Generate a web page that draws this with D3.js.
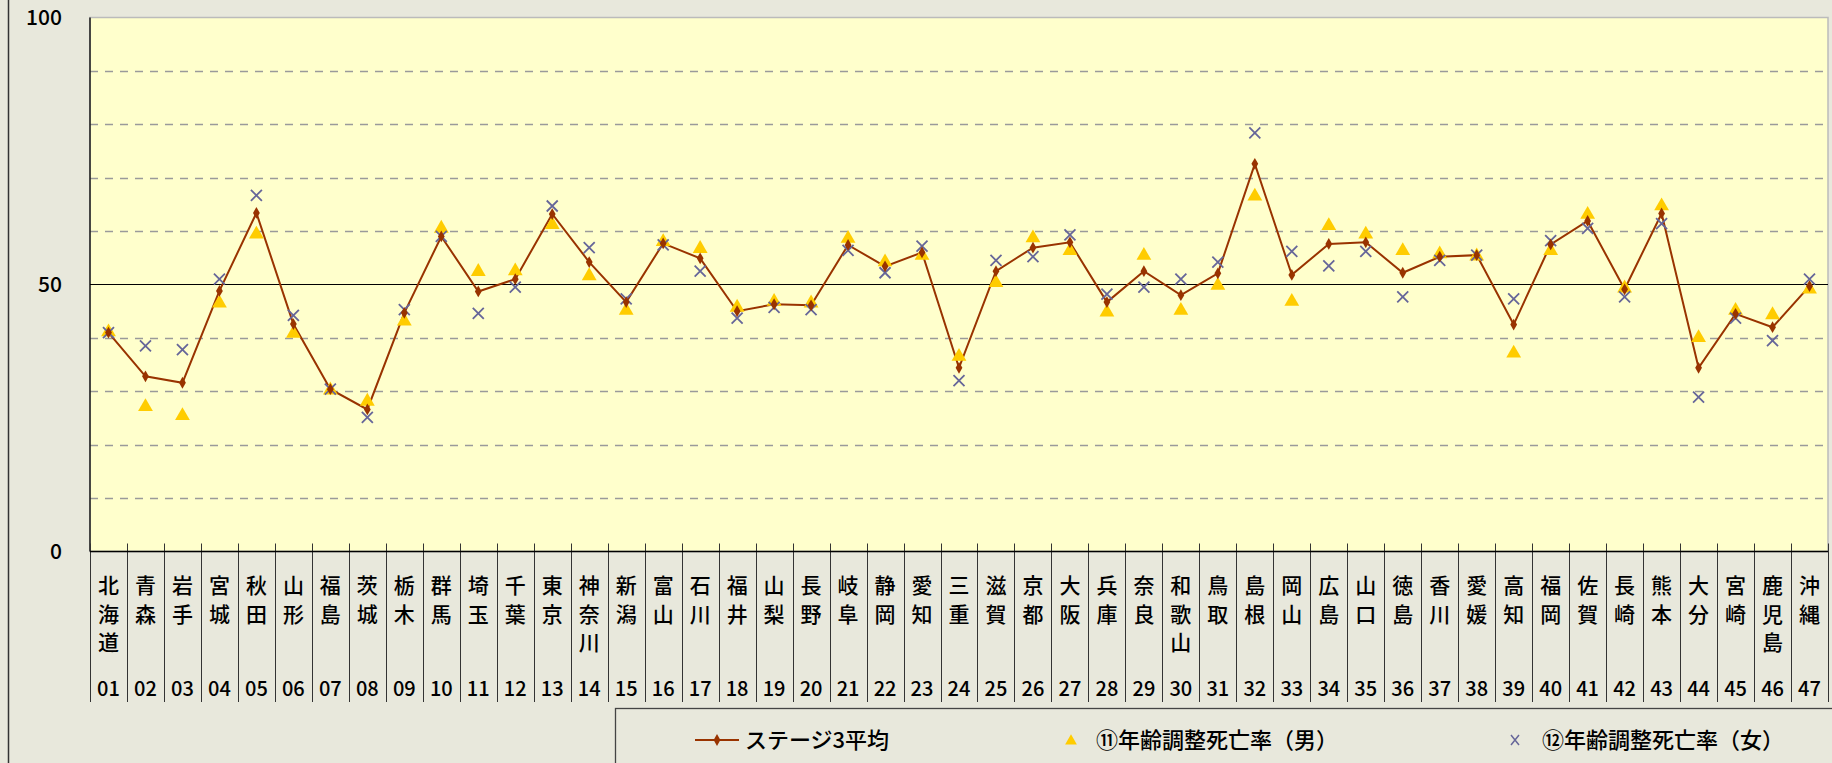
<!DOCTYPE html>
<html>
<head>
<meta charset="utf-8">
<script src="https://cdn.jsdelivr.net/npm/d3@7"></script>
<style>
  html, body { margin: 0; padding: 0; background: #E8E8DC; }
  svg { display: block; }
  text { font-family: "Noto Sans CJK JP", "Noto Sans", sans-serif; fill: #000; font-weight: 500; }
</style>
</head>
<body>
<div id="chart"></div>
<script>
// prefecture names and codes (two-level category axis)
const prefNames = ["北海道","青森","岩手","宮城","秋田","山形","福島","茨城","栃木","群馬",
  "埼玉","千葉","東京","神奈川","新潟","富山","石川","福井","山梨","長野",
  "岐阜","静岡","愛知","三重","滋賀","京都","大阪","兵庫","奈良","和歌山",
  "鳥取","島根","岡山","広島","山口","徳島","香川","愛媛","高知","福岡",
  "佐賀","長崎","熊本","大分","宮崎","鹿児島","沖縄"];
const prefCodes = ["01","02","03","04","05","06","07","08","09","10",
  "11","12","13","14","15","16","17","18","19","20",
  "21","22","23","24","25","26","27","28","29","30",
  "31","32","33","34","35","36","37","38","39","40",
  "41","42","43","44","45","46","47"];

// series values
const stage3Avg = [41.0,32.8,31.6,48.8,63.4,42.6,30.4,26.6,44.7,59.0,
  48.7,51.0,63.2,54.2,46.7,57.7,54.9,45.0,46.3,46.1,
  57.4,53.4,56.0,34.4,52.5,56.9,57.9,46.7,52.5,48.0,
  52.1,72.6,51.8,57.6,57.9,52.2,55.2,55.5,42.5,57.5,
  61.9,49.1,63.3,34.4,44.5,42.0,49.7];
const maleRate = [41.3,27.3,25.6,46.7,59.6,41.0,30.4,28.3,43.3,60.7,
  52.6,52.7,61.4,51.8,45.3,58.2,56.9,45.9,47.0,46.7,
  58.8,54.4,55.6,36.7,50.5,58.9,56.5,45.0,55.6,45.3,
  50.0,66.7,47.0,61.2,59.6,56.5,55.9,55.5,37.3,56.5,
  63.3,49.5,64.9,40.2,45.3,44.5,49.3];
const femaleRate = [41.0,38.5,37.8,51.0,66.7,44.2,30.4,25.1,45.3,59.0,
  44.6,49.5,64.7,56.9,47.3,57.4,52.5,43.7,45.7,45.3,
  56.4,52.2,57.2,32.0,54.5,55.2,59.3,48.2,49.5,51.0,
  54.2,78.4,56.2,53.5,56.2,47.7,54.5,55.5,47.3,58.2,
  60.5,47.7,61.4,28.9,43.7,39.5,51.0];

const yTicks = [0, 50, 100];
const gridValues = [10, 20, 30, 40, 60, 70, 80, 90];
const seriesLabels = ["ステージ3平均", "⑪年齢調整死亡率（男）", "⑫年齢調整死亡率（女）"];

const width = 1832, height = 763;
const plot = { left: 90, right: 1828, top: 17.5, bottom: 551.5 };

const svg = d3.select("#chart").append("svg")
  .attr("width", width)
  .attr("height", height);

svg.append("rect").attr("width", width).attr("height", height).attr("fill", "#E8E8DC");
// chart area left border
svg.append("line").attr("x1", 8.5).attr("x2", 8.5).attr("y1", 0).attr("y2", height)
  .attr("stroke", "#333").attr("stroke-width", 1.5);

const x = d3.scaleBand().domain(prefCodes).range([plot.left, plot.right]).padding(0);
const y = d3.scaleLinear().domain([0, 100]).range([plot.bottom, plot.top]);
const cx = i => x(prefCodes[i]) + x.bandwidth() / 2;

// plot area
svg.append("rect")
  .attr("x", plot.left).attr("y", plot.top)
  .attr("width", plot.right - plot.left).attr("height", plot.bottom - plot.top)
  .attr("fill", "#FFFFCC")
  .attr("stroke", "#BBBBBB").attr("stroke-width", 1.5);

// dashed gridlines
svg.append("g").selectAll("line").data(gridValues).join("line")
  .attr("x1", plot.left).attr("x2", plot.right)
  .attr("y1", d => Math.round(y(d)) + 0.5).attr("y2", d => Math.round(y(d)) + 0.5)
  .attr("stroke", "#9A9A9A").attr("stroke-width", 1.3)
  .attr("stroke-dasharray", "8,7");

// 50 line
svg.append("line")
  .attr("x1", plot.left).attr("x2", plot.right)
  .attr("y1", y(50)).attr("y2", y(50))
  .attr("stroke", "#000").attr("stroke-width", 1.2);

// y axis labels
svg.append("g").selectAll("text").data(yTicks).join("text")
  .attr("x", 62).attr("y", d => y(d))
  .attr("dy", "0.36em")
  .attr("text-anchor", "end")
  .style("font-size", "21px")
  .text(d => d);

// axes lines
svg.append("line").attr("x1", plot.left).attr("x2", plot.left)
  .attr("y1", plot.top).attr("y2", plot.bottom)
  .attr("stroke", "#000").attr("stroke-width", 1.3);

// category separators (cross ticks + label dividers)
const bounds = prefCodes.map(c => x(c)).concat([plot.right]);
svg.append("g").selectAll("line").data(bounds).join("line")
  .attr("x1", d => Math.round(d) + 0.5).attr("x2", d => Math.round(d) + 0.5)
  .attr("y1", plot.bottom - 8).attr("y2", 702)
  .attr("stroke", "#333").attr("stroke-width", 1);

svg.append("line").attr("x1", plot.left).attr("x2", plot.right)
  .attr("y1", plot.bottom).attr("y2", plot.bottom)
  .attr("stroke", "#000").attr("stroke-width", 1.5);

// category labels: names stacked vertically, codes below
const labels = svg.append("g");
prefNames.forEach((name, i) => {
  const t = labels.append("text")
    .attr("text-anchor", "middle")
    .style("font-size", "21px");
  Array.from(name).forEach((ch, k) => {
    t.append("tspan").attr("x", cx(i)).attr("y", 593 + k * 28.5).text(ch);
  });
  labels.append("text")
    .attr("x", cx(i)).attr("y", 696)
    .attr("text-anchor", "middle")
    .style("font-size", "20px")
    .text(prefCodes[i]);
});

// series: stage 3 average line
const line = d3.line().x((d, i) => cx(i)).y(d => y(d));
svg.append("path").datum(stage3Avg)
  .attr("d", line)
  .attr("fill", "none")
  .attr("stroke", "#993300")
  .attr("stroke-width", 2);

const tri = d3.symbol().type(d3.symbolTriangle).size(95);
svg.append("g").selectAll("path").data(maleRate).join("path")
  .attr("transform", (d, i) => `translate(${cx(i)},${y(d) + 1})`)
  .attr("d", tri)
  .attr("fill", "#FFCC00");

const xs = 5.5;
const crossPath = `M${-xs},${-xs}L${xs},${xs}M${-xs},${xs}L${xs},${-xs}`;
svg.append("g").selectAll("path").data(femaleRate).join("path")
  .attr("transform", (d, i) => `translate(${cx(i)},${y(d)})`)
  .attr("d", crossPath)
  .attr("fill", "none")
  .attr("stroke", "#666699")
  .attr("stroke-width", 1.8);

const diamond = d3.symbol().type(d3.symbolDiamond).size(40);
svg.append("g").selectAll("path").data(stage3Avg).join("path")
  .attr("transform", (d, i) => `translate(${cx(i)},${y(d)})`)
  .attr("d", diamond)
  .attr("fill", "#993300");

// legend
const lg = svg.append("g");
lg.append("rect").attr("x", 615.5).attr("y", 708.5).attr("width", width).attr("height", 100)
  .attr("fill", "#E8E8DC").attr("stroke", "#444").attr("stroke-width", 1.3);
const ly = 740;
lg.append("line").attr("x1", 695).attr("x2", 739).attr("y1", ly).attr("y2", ly)
  .attr("stroke", "#993300").attr("stroke-width", 2);
lg.append("path").attr("transform", `translate(717,${ly})`).attr("d", diamond).attr("fill", "#993300");
lg.append("text").attr("x", 745).attr("y", ly).attr("dy", "0.36em").style("font-size", "22px").text(seriesLabels[0]);

lg.append("path").attr("transform", `translate(1071,${ly + 1})`)
  .attr("d", d3.symbol().type(d3.symbolTriangle).size(60)).attr("fill", "#FFCC00");
lg.append("text").attr("x", 1096).attr("y", ly).attr("dy", "0.36em").style("font-size", "22px").text(seriesLabels[1]);

lg.append("path").attr("transform", `translate(1515,${ly})`)
  .attr("d", "M-4,-5L4,5M-4,5L4,-5")
  .attr("fill", "none").attr("stroke", "#666699").attr("stroke-width", 1.5);
lg.append("text").attr("x", 1542).attr("y", ly).attr("dy", "0.36em").style("font-size", "22px").text(seriesLabels[2]);
</script>
</body>
</html>
